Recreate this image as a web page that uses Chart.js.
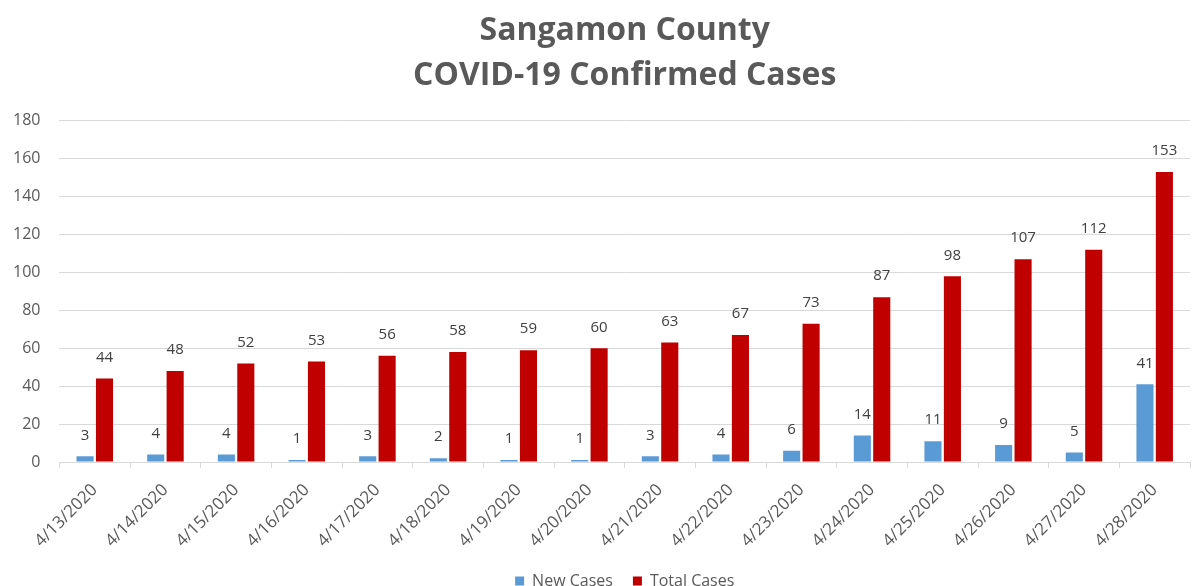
<!DOCTYPE html>
<html>
<head>
<meta charset="utf-8">
<script src="https://cdn.jsdelivr.net/npm/chart.js@4/dist/chart.umd.min.js"></script>
<style>
  html, body { margin: 0; padding: 0; background: #fff; }
  #wrap { width: 1203px; height: 586px; position: relative; }
</style>
</head>
<body>
<div id="wrap"><canvas id="chart"></canvas></div>
<script>
const dates = ['4/13/2020', '4/14/2020', '4/15/2020', '4/16/2020', '4/17/2020', '4/18/2020',
    '4/19/2020', '4/20/2020', '4/21/2020', '4/22/2020', '4/23/2020', '4/24/2020',
    '4/25/2020', '4/26/2020', '4/27/2020', '4/28/2020'];
const newCases = [3, 4, 4, 1, 3, 2, 1, 1, 3, 4, 6, 14, 11, 9, 5, 41];
const totalCases = [44, 48, 52, 53, 56, 58, 59, 60, 63, 67, 73, 87, 98, 107, 112, 153];

const FONT = "'Open Sans', 'Liberation Sans', sans-serif";
const GREY = '#595959';

// labels above each bar
const barLabels = {
    id: 'barLabels',
    afterDatasetsDraw(chart) {
        const { ctx } = chart;
        ctx.save();
        ctx.font = '15px ' + FONT;
        ctx.fillStyle = '#404040';
        ctx.textAlign = 'center';
        ctx.textBaseline = 'middle';
        chart.data.datasets.forEach((ds, i) => {
            chart.getDatasetMeta(i).data.forEach((bar, j) => {
                ctx.fillText(ds.data[j], bar.x, bar.y - 21);
            });
        });
        ctx.restore();
    },
};

new Chart(document.getElementById('chart'), {
    type: 'bar',
    data: {
        labels: dates,
        datasets: [
            { label: 'New Cases', data: newCases, backgroundColor: '#5B9BD5', categoryPercentage: 0.55, barPercentage: 0.88 },
            { label: 'Total Cases', data: totalCases, backgroundColor: '#C00000', categoryPercentage: 0.55, barPercentage: 0.88 },
        ],
    },
    options: {
        responsive: true,
        maintainAspectRatio: false,
        animation: false,
        layout: { padding: { left: -6, right: 13, top: 8, bottom: -13 } },
        scales: {
            x: {
                grid: { offset: true, drawOnChartArea: false, drawTicks: true, tickLength: 6, color: '#d9d9d9' },
                border: { color: '#d9d9d9' },
                ticks: { color: GREY, font: { family: FONT, size: 17 }, maxRotation: 45, minRotation: 45, padding: 12 },
                // rotated first label may hang past the y axis labels, like the original
                afterFit(scale) {
                    scale.paddingLeft = 0;
                    scale.height = 91;
                },
            },
            y: {
                min: 0,
                max: 180,
                ticks: { stepSize: 20, color: GREY, font: { family: FONT, size: 16 }, padding: 19 },
                grid: { color: '#d9d9d9', drawTicks: false },
                border: { display: false },
            },
        },
        plugins: {
            title: {
                display: true,
                fullSize: false,
                text: ['Sangamon County', 'COVID-19 Confirmed Cases'],
                color: GREY,
                font: { family: FONT, size: 32, weight: 'bold', lineHeight: 1.42 },
                padding: { top: 0, bottom: 22 },
            },
            legend: {
                position: 'bottom',
                fullSize: false,
                labels: { color: GREY, font: { family: FONT, size: 16 }, boxWidth: 9, boxHeight: 9, padding: 20 },
            },
            tooltip: { enabled: false },
        },
    },
    plugins: [barLabels],
});
</script>
</body>
</html>
